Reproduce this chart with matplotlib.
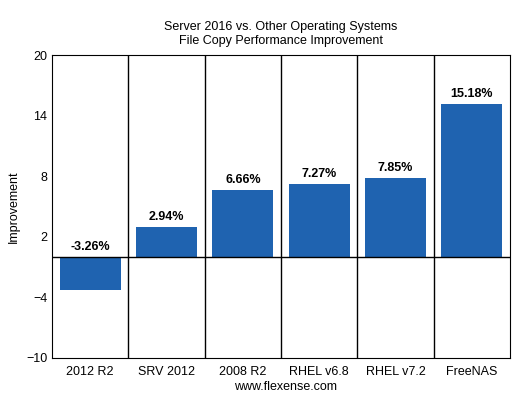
import matplotlib
matplotlib.use("Agg")
import matplotlib.pyplot as plt

categories = ["2012 R2", "SRV 2012", "2008 R2", "RHEL v6.8", "RHEL v7.2", "FreeNAS"]
values = [-3.26, 2.94, 6.66, 7.27, 7.85, 15.18]
yticks = [-10, -4, 2, 8, 14, 20]

plt.rcParams['font.family'] = ['Liberation Sans', 'DejaVu Sans']
fig = plt.figure(figsize=(5.2, 4.01), dpi=100)
ax = fig.add_axes([52/520, 1-358/401, 458/520, 303/401])
x = range(len(categories))
ax.bar(x, values, width=0.8, color='#1f63b0', zorder=3)
for i, v in enumerate(values):
    y = max(v, 0) + 0.4
    ax.text(i, y, f"{v:.2f}%", ha='center', va='bottom', fontsize=9, fontweight='bold')
ax.set_xlim(-0.5, len(categories)-0.5)
ax.set_ylim(-10, 20)
ax.set_yticks(yticks)
ax.set_xticks(list(x))
ax.set_xticklabels(categories, fontsize=9)
ax.tick_params(axis='y', labelsize=9, length=0)
ax.tick_params(axis='x', length=0, pad=6)
for b in range(1, len(categories)):
    ax.axvline(b-0.5, color='black', lw=1, zorder=1)
ax.axhline(0, color='black', lw=1, zorder=4)
ax.set_ylabel("Improvement", fontsize=9)
ax.set_title("Server 2016 vs. Other Operating Systems\nFile Copy Performance Improvement", fontsize=9, pad=8)
fig.text(0.5 + 26/520, 1-390/401, "www.flexense.com", ha='center', fontsize=9)
fig.savefig("out.png", dpi=100)
